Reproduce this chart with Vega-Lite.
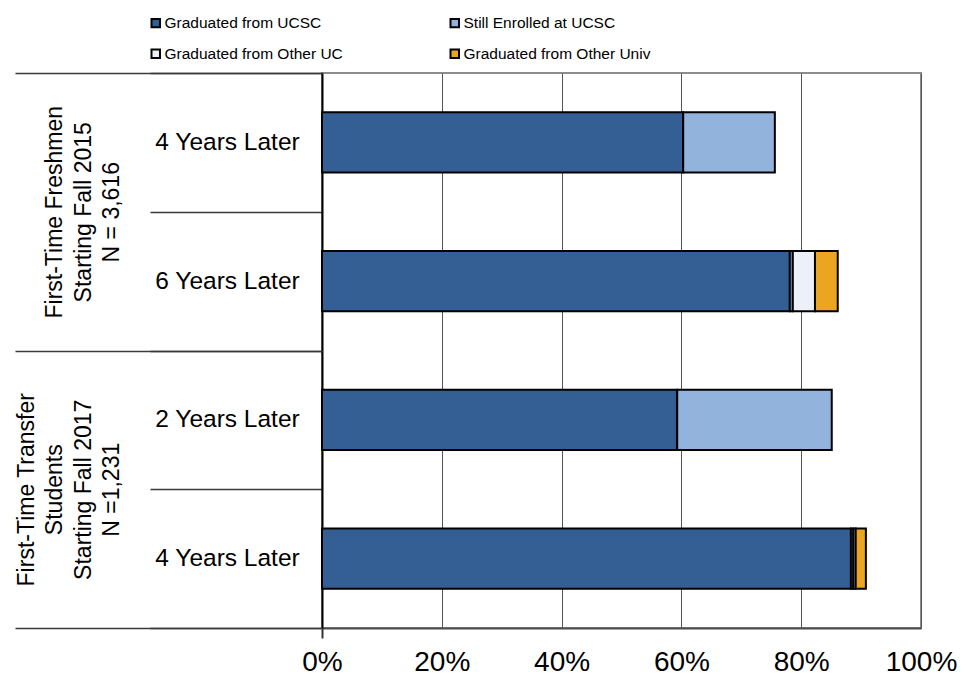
{
  "$schema": "https://vega.github.io/schema/vega-lite/v6.json",
  "width": 599,
  "height": 555,
  "autosize": {"type": "none"},
  "padding": {"left": 322, "top": 73, "right": 57, "bottom": 50},
  "background": "white",
  "config": {
    "font": "Liberation Sans",
    "view": {"stroke": "#8c8c8c", "strokeWidth": 2}
  },
  "data": {
    "values": [
      {"group": "|First-Time Freshmen|Starting Fall 2015|N = 3,616", "row": "F: 4 Years Later", "status": "Graduated from UCSC", "seq": 1, "pct": 60.3},
      {"group": "|First-Time Freshmen|Starting Fall 2015|N = 3,616", "row": "F: 4 Years Later", "status": "Still Enrolled at UCSC", "seq": 2, "pct": 15.3},
      {"group": "|First-Time Freshmen|Starting Fall 2015|N = 3,616", "row": "F: 6 Years Later", "status": "Graduated from UCSC", "seq": 1, "pct": 78.1},
      {"group": "|First-Time Freshmen|Starting Fall 2015|N = 3,616", "row": "F: 6 Years Later", "status": "Still Enrolled at UCSC", "seq": 2, "pct": 0.5},
      {"group": "|First-Time Freshmen|Starting Fall 2015|N = 3,616", "row": "F: 6 Years Later", "status": "Graduated from Other UC", "seq": 3, "pct": 3.7},
      {"group": "|First-Time Freshmen|Starting Fall 2015|N = 3,616", "row": "F: 6 Years Later", "status": "Graduated from Other Univ", "seq": 4, "pct": 3.8},
      {"group": "First-Time Transfer|Students|Starting Fall 2017|N =1,231", "row": "T: 2 Years Later", "status": "Graduated from UCSC", "seq": 1, "pct": 59.3},
      {"group": "First-Time Transfer|Students|Starting Fall 2017|N =1,231", "row": "T: 2 Years Later", "status": "Still Enrolled at UCSC", "seq": 2, "pct": 25.8},
      {"group": "First-Time Transfer|Students|Starting Fall 2017|N =1,231", "row": "T: 4 Years Later", "status": "Graduated from UCSC", "seq": 1, "pct": 88.3},
      {"group": "First-Time Transfer|Students|Starting Fall 2017|N =1,231", "row": "T: 4 Years Later", "status": "Still Enrolled at UCSC", "seq": 2, "pct": 0.4},
      {"group": "First-Time Transfer|Students|Starting Fall 2017|N =1,231", "row": "T: 4 Years Later", "status": "Graduated from Other UC", "seq": 3, "pct": 0.4},
      {"group": "First-Time Transfer|Students|Starting Fall 2017|N =1,231", "row": "T: 4 Years Later", "status": "Graduated from Other Univ", "seq": 4, "pct": 1.7}
    ]
  },
  "layer": [
    {
      "mark": {"type": "bar", "stroke": "black", "strokeWidth": 2},
      "encoding": {
        "y": {
          "field": "row", "type": "nominal",
          "sort": ["F: 4 Years Later", "F: 6 Years Later", "T: 2 Years Later", "T: 4 Years Later"],
          "scale": {"paddingInner": 0.565, "paddingOuter": 0.2825},
          "axis": null
        },
        "x": {
          "field": "pct", "type": "quantitative", "stack": "zero",
          "scale": {"domain": [0, 100], "nice": false},
          "axis": {
            "title": null,
            "values": [0, 20, 40, 60, 80, 100],
            "labelExpr": "datum.value + '%'",
            "labelFontSize": 28,
            "labelColor": "black",
            "labelPadding": 10,
            "labelFlush": false,
            "grid": true,
            "gridColor": "#555555",
            "gridWidth": 1,
            "domainColor": "#4d4d4d",
            "domainWidth": 2,
            "ticks": true,
            "tickSize": 10,
            "tickColor": "#333333",
            "tickWidth": 2,
            "tickOpacity": {"expr": "datum.value == 0 ? 1 : 0"}
          }
        },
        "order": {"field": "seq", "type": "quantitative", "sort": "ascending"},
        "color": {
          "field": "status", "type": "nominal",
          "scale": {
            "domain": ["Graduated from UCSC", "Still Enrolled at UCSC", "Graduated from Other UC", "Graduated from Other Univ"],
            "range": ["#335F94", "#92B3DB", "#EDF0F8", "#EBA520"]
          },
          "legend": {
            "title": null,
            "orient": "none",
            "direction": "horizontal",
            "legendX": -174,
            "legendY": -58,
            "columns": 2,
            "columnPadding": 103,
            "rowPadding": 13,
            "padding": 0,
            "symbolType": "square",
            "symbolSize": 72,
            "symbolStrokeColor": "black",
            "symbolStrokeWidth": 2,
            "labelFontSize": 15.5,
            "labelColor": "black",
            "labelOffset": 1,
            "labelLimit": 400
          }
        }
      }
    },
    {
      "mark": {"type": "point", "opacity": 0},
      "encoding": {
        "y": {
          "field": "row", "type": "nominal",
          "sort": ["F: 4 Years Later", "F: 6 Years Later", "T: 2 Years Later", "T: 4 Years Later"],
          "scale": {"paddingInner": 0, "paddingOuter": 0},
          "axis": {
            "orient": "left",
            "title": null,
            "labelExpr": "isValid(datum.value) ? split(datum.value, ': ')[1] : ''",
            "tickBand": "extent",
            "tickSize": 172,
            "tickColor": "#3a3a3a",
            "tickWidth": 1.5,
            "domainColor": "black",
            "domainWidth": 2,
            "labelAlign": "center",
            "labelBaseline": "middle",
            "labelPadding": -77,
            "labelFontSize": 24.5,
            "labelColor": "black",
            "labelLimit": 400,
            "labelOverlap": false
          }
        }
      }
    },
    {
      "mark": {"type": "point", "opacity": 0},
      "encoding": {
        "y": {
          "field": "group", "type": "nominal",
          "sort": ["|First-Time Freshmen|Starting Fall 2015|N = 3,616", "First-Time Transfer|Students|Starting Fall 2017|N =1,231"],
          "scale": {"paddingInner": 0, "paddingOuter": 0},
          "axis": {
            "orient": "left",
            "title": null,
            "labelExpr": "isValid(datum.value) ? split(datum.value, '|') : ''",
            "tickBand": "extent",
            "tickSize": 307,
            "tickColor": "#3a3a3a",
            "tickWidth": 1.5,
            "domain": false,
            "labelAngle": -90,
            "labelAlign": "center",
            "labelBaseline": "bottom",
            "labelPadding": -23,
            "labelFontSize": 23,
            "labelLineHeight": 28.5,
            "labelColor": "black",
            "labelLimit": 400,
            "labelOverlap": false
          }
        }
      }
    }
  ],
  "resolve": {"scale": {"y": "independent"}, "axis": {"y": "independent"}}
}
